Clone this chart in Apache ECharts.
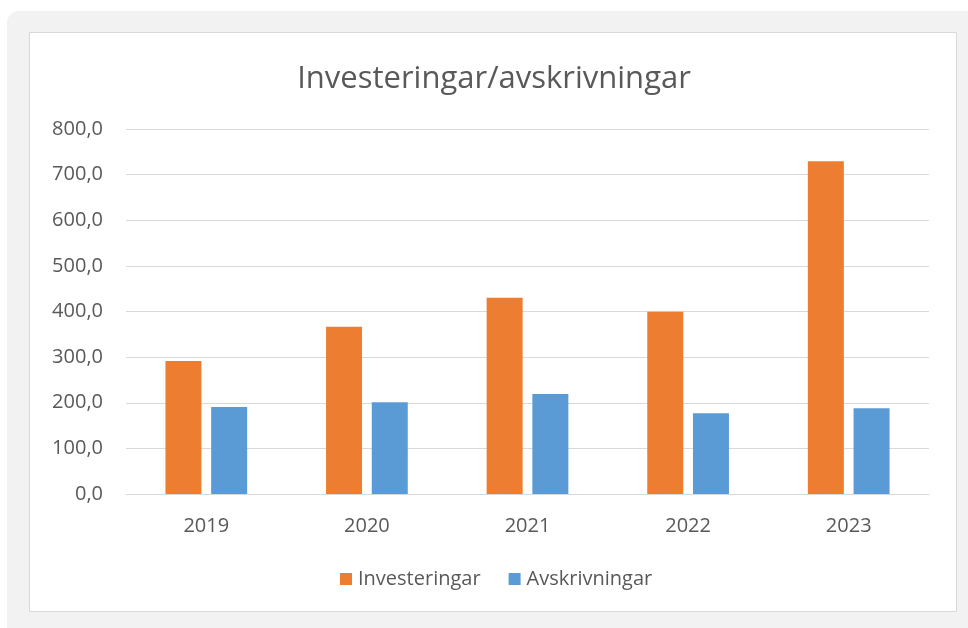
<!DOCTYPE html>
<html>
<head>
<meta charset="utf-8">
<script src="https://cdn.jsdelivr.net/npm/echarts@6/dist/echarts.min.js"></script>
<style>
  html, body { margin: 0; padding: 0; background: #fff; }
  #chart { width: 968px; height: 628px; }
</style>
</head>
<body>
<div id="chart"></div>
<script>
// data
const years = ['2019', '2020', '2021', '2022', '2023']
const investeringar = [291.5, 366.5, 430.0, 399.3, 729.5]
const avskrivningar = [190.9, 201.2, 219.3, 177.1, 188.0]
const yTicks = { min: 0, max: 800, interval: 100 }

const textColor = '#595959'
const gridColor = '#d9d9d9'
const fontFamily = '"Open Sans", "Noto Sans", sans-serif'

const chart = echarts.init(document.getElementById('chart'))

const option = {
  animation: false,
  textStyle: { fontFamily: fontFamily },
  graphic: [
    {
      type: 'rect',
      z: -10,
      shape: { x: 7, y: 11, width: 961, height: 617, r: [12, 0, 0, 0] },
      style: { fill: '#f2f2f2' },
      silent: true
    },
    {
      type: 'rect',
      z: -9,
      shape: { x: 29.5, y: 32.5, width: 927, height: 579 },
      style: { fill: '#ffffff', stroke: '#d9d9d9', lineWidth: 1 },
      silent: true
    }
  ],
  title: {
    text: 'Investeringar/avskrivningar',
    left: 489,
    textAlign: 'center',
    top: 59,
    textStyle: {
      color: textColor,
      fontSize: 31,
      fontWeight: 'normal',
      fontFamily: fontFamily
    }
  },
  legend: {
    data: ['Investeringar', 'Avskrivningar'],
    left: 335,
    top: 564,
    itemWidth: 12,
    itemHeight: 12,
    itemGap: 28,
    icon: 'rect',
    textStyle: { color: textColor, fontSize: 20, fontFamily: fontFamily, padding: [0, 0, 0, 1] }
  },
  grid: {
    left: 126,
    right: 39,
    top: 129,
    bottom: 134,
    containLabel: false
  },
  xAxis: {
    type: 'category',
    data: years,
    axisLine: { lineStyle: { color: gridColor, width: 1 } },
    axisTick: { show: false },
    axisLabel: { color: textColor, fontSize: 20, margin: 22 }
  },
  yAxis: {
    type: 'value',
    min: yTicks.min,
    max: yTicks.max,
    interval: yTicks.interval,
    axisLine: { show: false },
    axisTick: { show: false },
    splitLine: { lineStyle: { color: gridColor, width: 1 } },
    axisLabel: {
      color: textColor,
      fontSize: 20,
      margin: 23,
      formatter: (v) => v.toFixed(1).replace('.', ',')
    }
  },
  series: [
    {
      name: 'Investeringar',
      type: 'bar',
      data: investeringar,
      barWidth: 36,
      barGap: '27%',
      itemStyle: { color: '#ed7d31' }
    },
    {
      name: 'Avskrivningar',
      type: 'bar',
      data: avskrivningar,
      barWidth: 36,
      itemStyle: { color: '#5b9bd5' }
    }
  ]
}

chart.setOption(option)
</script>
</body>
</html>
